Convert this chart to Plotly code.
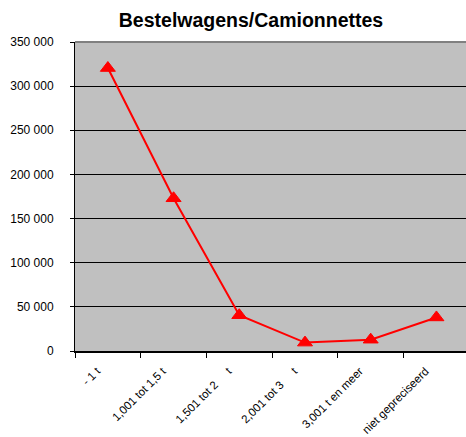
"""Bestelwagens/Camionnettes line chart, Excel-style grey plot area."""

import plotly.graph_objects as go

categories = [
    "- 1 t",
    "1,001 tot 1,5 t",
    "1,501 tot 2\u00a0\u00a0\u00a0\u00a0\u00a0t",
    "2,001 tot 3\u00a0\u00a0\u00a0\u00a0\u00a0t",
    "3,001 t en meer",
    "niet gepreciseerd",
]
values = [320500, 173000, 40500, 9500, 12800, 38000]
y_ticks = [0, 50000, 100000, 150000, 200000, 250000, 300000, 350000]

FONT = "Liberation Sans, Arial, sans-serif"

W, H = 466, 437

fig = go.Figure(go.Scatter(
    x=categories,
    y=values,
    mode="lines+markers",
    line=dict(color="#FF0000", width=2),
    marker=dict(symbol="triangle-up", size=13, color="#FF0000",
                line=dict(color="#FF0000", width=1)),
    showlegend=False,
))

fig.update_layout(
    width=W,
    height=H,
    margin=dict(l=75, r=0, t=42, b=86),
    paper_bgcolor="white",
    plot_bgcolor="#C0C0C0",
    separators=", ",
    font=dict(family=FONT, color="black", size=12),
    title=dict(
        text="<b>Bestelwagens/Camionnettes</b>",
        font=dict(size=19.5, color="black", family=FONT),
        xref="container", yref="container",
        x=251 / W, xanchor="center",
        y=1 - 20 / H, yanchor="middle",
    ),
    xaxis=dict(
        type="category",
        range=[-0.5, 5.45],  # plot area runs past the right edge, as in the source
        tickson="boundaries",
        ticks="outside",
        ticklen=5,
        tickcolor="black",
        tickangle=-45,
        ticklabelstandoff=7,
        ticklabelshift=-11,
        tickfont=dict(size=11.5, family=FONT, color="black"),
        showline=True,
        linecolor="black",
        linewidth=2,
        showgrid=False,
        automargin=False,
    ),
    yaxis=dict(
        range=[0, 350000],
        tickvals=y_ticks,
        tickformat=",d",
        ticks="outside",
        ticklen=4,
        tickcolor="black",
        ticklabelstandoff=14,
        tickfont=dict(size=12, family=FONT, color="black"),
        showline=True,
        linecolor="black",
        linewidth=1,
        showgrid=True,
        gridcolor="black",
        gridwidth=1,
        zeroline=False,
        automargin=False,
    ),
    shapes=[dict(
        type="line", xref="paper", yref="paper",
        x0=0, x1=1, y0=1, y1=1,
        line=dict(color="#808080", width=2),
    )],
)

# drop the default body margin so the figure fills the window exactly
fig.write_html(
    "out.html",
    config={"displayModeBar": False},
    post_script="document.body.style.margin='0';document.body.style.overflow='hidden';",
)
